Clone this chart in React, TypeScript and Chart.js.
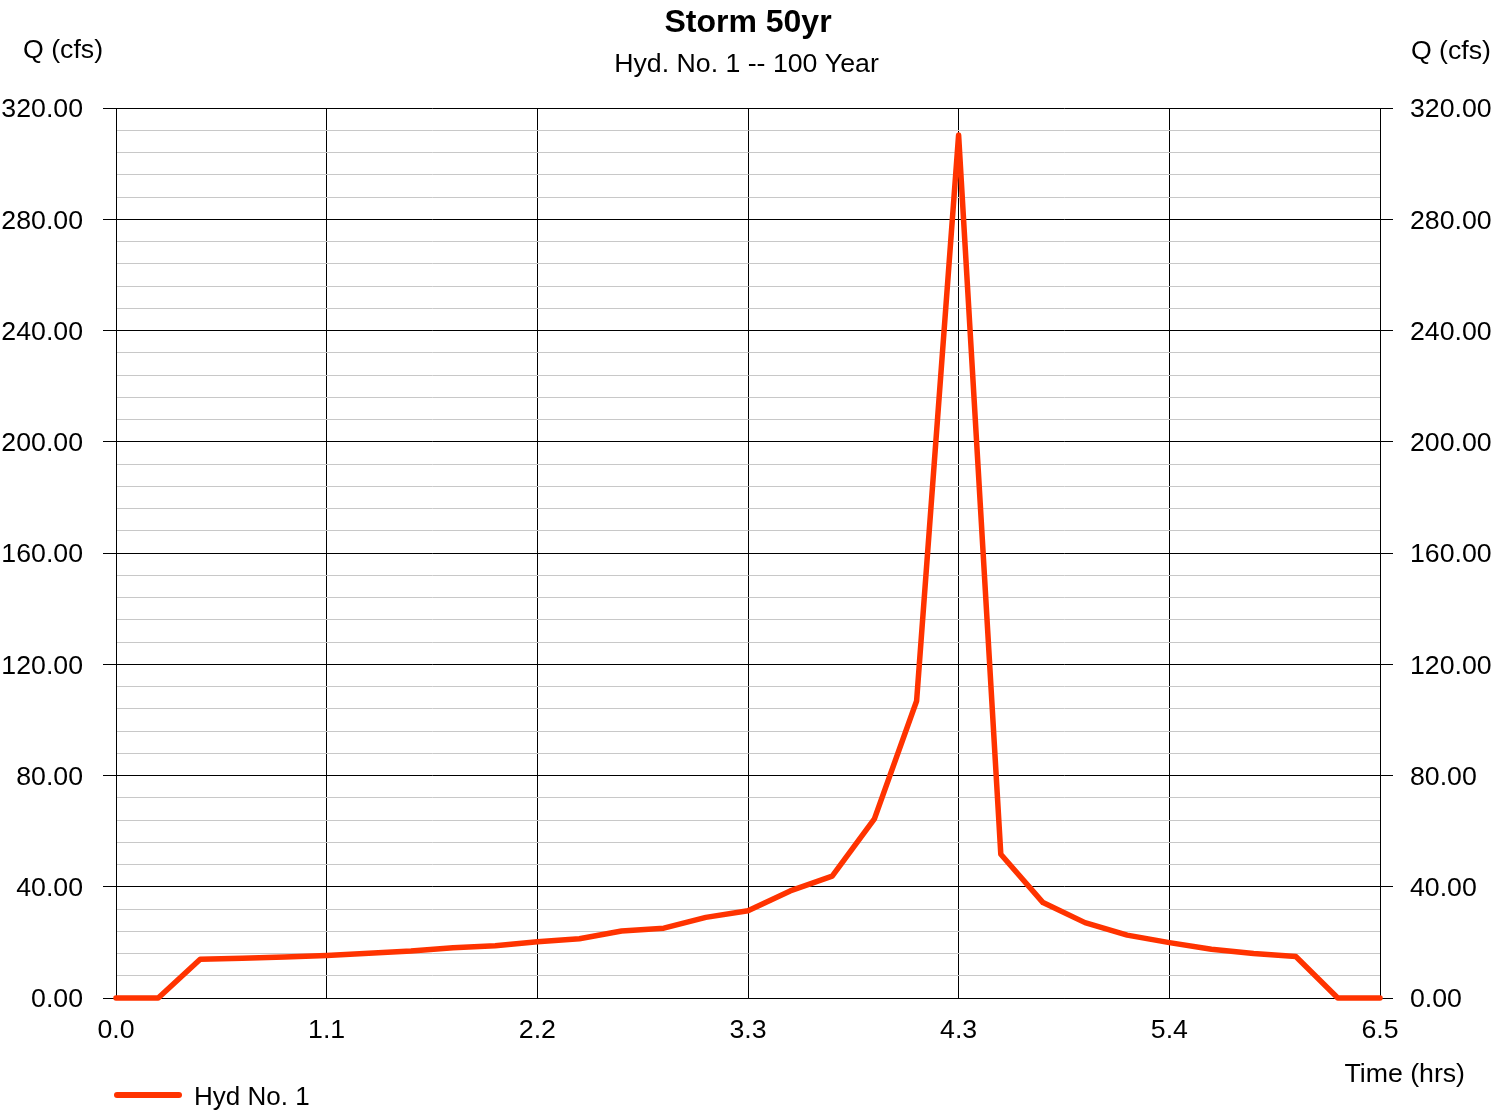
import React, { useEffect, useRef } from 'react';
import { Chart, registerables } from 'chart.js';

Chart.register(...registerables);

// ---- Data ----
const chartTitle = 'Storm 50yr';
const chartSubtitle = 'Hyd. No. 1 -- 100 Year';
const yAxisTitle = 'Q (cfs)';
const xAxisTitle = 'Time (hrs)';
const seriesLabel = 'Hyd No. 1';

const timeHrs = [
  0.0, 0.217, 0.433, 0.65, 0.867, 1.083, 1.3, 1.517, 1.733, 1.95, 2.167,
  2.383, 2.6, 2.817, 3.033, 3.25, 3.467, 3.683, 3.9, 4.117, 4.333,
  4.55, 4.767, 4.983, 5.2, 5.417, 5.633, 5.85, 6.067, 6.283, 6.5,
];
const flowCfs = [
  0, 0, 13.9, 14.3, 14.7, 15.3, 16.1, 16.9, 18.1, 18.8, 20.2,
  21.3, 24.1, 25.1, 29.0, 31.4, 38.5, 43.8, 64.4, 106.8, 310.3,
  51.7, 34.3, 27.1, 22.6, 19.9, 17.5, 16.0, 14.9, 0, 0,
];
const xTickValues = [0, 1.0833, 2.1667, 3.25, 4.3333, 5.4167, 6.5];
const xTickLabels = ['0.0', '1.1', '2.2', '3.3', '4.3', '5.4', '6.5'];
const yMin = 0;
const yMax = 320;
const yMajorStep = 40;
const yMinorStep = 8;

const FONT = '"Liberation Sans", Arial, Helvetica, sans-serif';
const LABEL_SIZE = 26.7;
const LINE_COLOR = '#ff3300';

const isMajor = (v: number) => Math.abs(v % yMajorStep) < 1e-6;

const textPlugin = {
  id: 'hydroTexts',
  afterDraw(chart: any) {
    const ctx = chart.ctx as CanvasRenderingContext2D;
    const { left, right } = chart.chartArea;
    const cx = (left + right) / 2;
    ctx.save();
    ctx.fillStyle = '#000';
    ctx.textBaseline = 'alphabetic';

    ctx.font = `bold 32px ${FONT}`;
    ctx.textAlign = 'center';
    ctx.fillText(chartTitle, cx, 32);

    ctx.font = `${LABEL_SIZE}px ${FONT}`;
    ctx.fillText(chartSubtitle, cx - 1.5, 72);

    ctx.textAlign = 'left';
    ctx.fillText(yAxisTitle, 23, 58);
    ctx.textAlign = 'right';
    ctx.fillText(yAxisTitle, 1491, 59);
    ctx.fillText(xAxisTitle, 1465, 1082);

    // legend
    const ds = chart.data.datasets[0];
    ctx.strokeStyle = ds.borderColor;
    ctx.lineWidth = 6;
    ctx.lineCap = 'round';
    ctx.beginPath();
    ctx.moveTo(117, 1095);
    ctx.lineTo(179, 1095);
    ctx.stroke();
    ctx.font = `26px ${FONT}`;
    ctx.textAlign = 'left';
    ctx.fillText(ds.label, 194, 1105);
    ctx.restore();
  },
};

export default function App() {
  const canvasRef = useRef<HTMLCanvasElement | null>(null);

  useEffect(() => {
    document.body.style.margin = '0';
    const canvas = canvasRef.current;
    if (!canvas) return;

    const yTicks = (padding: number) => ({
      stepSize: yMinorStep,
      autoSkip: false,
      padding,
      labelOffset: 2,
      color: '#000',
      font: { family: FONT, size: LABEL_SIZE },
      callback: (v: any) => (isMajor(Number(v)) ? Number(v).toFixed(2) : ''),
    });

    const chart = new Chart(canvas, {
      type: 'line',
      data: {
        datasets: [
          {
            label: seriesLabel,
            data: timeHrs.map((t, i) => ({ x: t, y: flowCfs[i] })),
            borderColor: LINE_COLOR,
            backgroundColor: LINE_COLOR,
            borderWidth: 5.5,
            borderJoinStyle: 'round',
            borderCapStyle: 'round',
            pointRadius: 0,
            tension: 0,
            clip: 10,
          } as any,
        ],
      },
      options: {
        responsive: false,
        animation: false,
        layout: { padding: { top: 108, left: 0, right: 0, bottom: 0 } },
        plugins: {
          legend: { display: false },
          title: { display: false },
          tooltip: { enabled: false },
        },
        scales: {
          x: {
            type: 'linear',
            min: 0,
            max: 6.5,
            afterBuildTicks: (scale: any) => {
              scale.ticks = xTickValues.map((value) => ({ value }));
            },
            afterFit: (scale: any) => {
              scale.height = 112;
            },
            ticks: {
              autoSkip: false,
              maxRotation: 0,
              padding: 16.5,
              color: '#000',
              font: { family: FONT, size: LABEL_SIZE },
              callback: (_v: any, i: number) => xTickLabels[i],
            },
            grid: { color: '#000', lineWidth: 1, drawTicks: false },
            border: { color: '#000', width: 1 },
          },
          y: {
            type: 'linear',
            position: 'left',
            min: yMin,
            max: yMax,
            afterFit: (scale: any) => {
              scale.width = 116;
            },
            ticks: yTicks(20) as any,
            grid: {
              color: (c: any) => (isMajor(c.tick.value) ? '#000' : '#c8c8c8'),
              tickColor: (c: any) => (isMajor(c.tick.value) ? '#000' : 'rgba(0,0,0,0)'),
              tickLength: 13,
              lineWidth: 1,
            },
            border: { color: '#000', width: 1 },
          },
          y2: {
            type: 'linear',
            position: 'right',
            min: yMin,
            max: yMax,
            afterFit: (scale: any) => {
              scale.width = 111;
            },
            ticks: yTicks(17) as any,
            grid: {
              drawOnChartArea: false,
              tickColor: (c: any) => (isMajor(c.tick.value) ? '#000' : 'rgba(0,0,0,0)'),
              tickLength: 13,
              lineWidth: 1,
            },
            border: { color: '#000', width: 1 },
          },
        },
      } as any,
      plugins: [textPlugin],
    });

    return () => chart.destroy();
  }, []);

  return (
    <canvas
      ref={canvasRef}
      width={1491}
      height={1110}
      style={{ display: 'block', width: 1491, height: 1110 }}
    />
  );
}
